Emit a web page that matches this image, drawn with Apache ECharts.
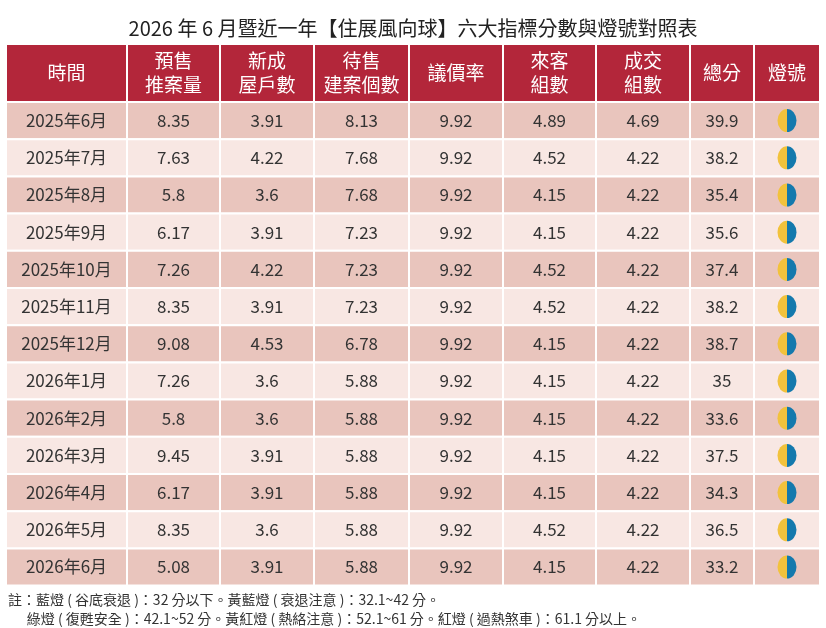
<!DOCTYPE html>
<html><head><meta charset="utf-8">
<script src="https://cdn.jsdelivr.net/npm/echarts@6/dist/echarts.min.js"></script>
<style>html,body{margin:0;padding:0;background:#fff}#c{width:826px;height:628px}</style>
</head><body><div id="c"></div>
<script>
const headers = ['時間','預售\n推案量','新成\n屋戶數','待售\n建案個數','議價率','來客\n組數','成交\n組數','總分','燈號'];
const months = ['2025年6月','2025年7月','2025年8月','2025年9月','2025年10月','2025年11月','2025年12月','2026年1月','2026年2月','2026年3月','2026年4月','2026年5月','2026年6月'];
const presale = ['8.35','7.63','5.8','6.17','7.26','8.35','9.08','7.26','5.8','9.45','6.17','8.35','5.08'];
const newHomes = ['3.91','4.22','3.6','3.91','4.22','3.91','4.53','3.6','3.6','3.91','3.91','3.6','3.91'];
const forSale = ['8.13','7.68','7.68','7.23','7.23','7.23','6.78','5.88','5.88','5.88','5.88','5.88','5.88'];
const bargain = ['9.92','9.92','9.92','9.92','9.92','9.92','9.92','9.92','9.92','9.92','9.92','9.92','9.92'];
const visitors = ['4.89','4.52','4.15','4.15','4.52','4.52','4.15','4.15','4.15','4.15','4.15','4.52','4.15'];
const deals = ['4.69','4.22','4.22','4.22','4.22','4.22','4.22','4.22','4.22','4.22','4.22','4.22','4.22'];
const total = ['39.9','38.2','35.4','35.6','37.4','38.2','38.7','35','33.6','37.5','34.3','36.5','33.2'];
const light = months.map(()=> 'yb');

const colX = [6,127,220,314,409,503,596,690,754,820];
const headTop = 44, headBot = 102, rowH = 37.2;
const cols = [months,presale,newHomes,forSale,bargain,visitors,deals,total,light];
const data = [];
headers.forEach((h,c)=>data.push([c,-1]));
months.forEach((m,r)=>{for(let c=0;c<9;c++) data.push([c,r]);});
const FONT = '"Noto Sans CJK TC","Noto Sans",sans-serif';

const chart = echarts.init(document.getElementById('c'));
chart.setOption({
  animation:false,
  title:{text:'2026 年 6 月暨近一年【住展風向球】六大指標分數與燈號對照表',left:'center',top:13,textStyle:{fontFamily:FONT,fontSize:20,fontWeight:'normal',color:'#222'}},
  grid:{left:6,right:6,top:44,bottom:628-585.6},
  xAxis:{type:'value',min:6,max:820,show:false},
  yAxis:{type:'value',min:44,max:585.6,inverse:true,show:false},
  graphic:[{type:'text',left:8,top:590,style:{text:'註：藍燈 ( 谷底衰退 )：32 分以下。黃藍燈 ( 衰退注意 )：32.1~42 分。\n      綠燈 ( 復甦安全 )：42.1~52 分。黃紅燈 ( 熱絡注意 )：52.1~61 分。紅燈 ( 過熱煞車 )：61.1 分以上。',font:'14px '+FONT,fill:'#333',lineHeight:19}}],
  series:[{type:'custom',data:data,renderItem:function(params,api){
    const c=api.value(0), r=api.value(1);
    const y0 = r<0?headTop:headBot+r*rowH, y1 = r<0?headBot:headBot+(r+1)*rowH;
    const p0=api.coord([colX[c],y0]), p1=api.coord([colX[c+1],y1]);
    const fill = r<0?'#b3263a':(r%2===0?'#e9c5bd':'#f8e7e3');
    const children=[{type:'rect',shape:{x:p0[0],y:p0[1],width:p1[0]-p0[0],height:p1[1]-p0[1]},style:{fill:fill,stroke:'#fff',lineWidth:2}}];
    const cx=(p0[0]+p1[0])/2, cy=(p0[1]+p1[1])/2;
    if(r<0){
      children.push({type:'text',style:{text:headers[c],x:cx,y:cy,align:'center',verticalAlign:'middle',font:'19px '+FONT,fill:'#fff',lineHeight:24}});
    } else if(c===8){
      const R=10;
      children.push({type:'group',x:cx,y:cy,scaleX:0.95,scaleY:1.15,children:[
        {type:'sector',shape:{cx:0,cy:0,r:R,startAngle:Math.PI/2,endAngle:Math.PI*1.5},style:{fill:'#f2c23c'}},
        {type:'sector',shape:{cx:0,cy:0,r:R,startAngle:-Math.PI/2,endAngle:Math.PI/2},style:{fill:'#1479ad'}}]});
    } else {
      children.push({type:'text',style:{text:cols[c][r],x:cx,y:cy,align:'center',verticalAlign:'middle',font:'17px '+FONT,fill:'#333'}});
    }
    return {type:'group',children:children};
  }}]
});
</script></body></html>
